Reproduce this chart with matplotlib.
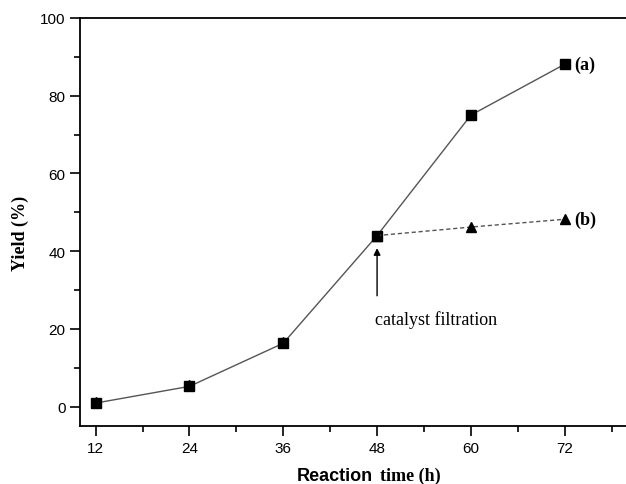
import numpy as np
import matplotlib.pyplot as plt
from matplotlib.ticker import MultipleLocator

# data
time_h = [12, 24, 36, 48, 60, 72]
yield_a = [0.9, 5.2, 16.3, 44.0, 75.0, 88.1]
time_b = [48, 60, 72]
yield_b = [44.0, 46.2, 48.2]
yield_b_early = [1.2, 5.5, 16.6]

serif = 'Liberation Serif'
sans = 'Liberation Sans'

fig = plt.figure(figsize=(6.26, 4.85), dpi=100)
ax = fig.add_axes([80 / 626, 1 - 427 / 485, 1 - 80 / 626 + 0.002, (427 - 19) / 485])

# curve (a): full run, solid line
ax.plot(time_h, yield_a, color='#555555', lw=1.0, marker='s', ms=6.5,
        mfc='black', mec='black', zorder=3)
# curve (b): after catalyst filtration, dashed
ax.plot(time_h[:3], yield_b_early, ls='none', marker='^', ms=7.5,
        mfc='black', mec='black', zorder=4)
ax.plot(time_b, yield_b, color='#555555', lw=1.0, ls=(0, (3, 2)), marker='^', ms=7.5,
        mfc='black', mec='black', zorder=4)

ax.text(73.2, yield_a[-1], '(a)', fontsize=13, fontweight='bold', family=serif, va='center')
ax.text(73.2, yield_b[-1], '(b)', fontsize=13, fontweight='bold', family=serif, va='center')

ax.annotate('', xy=(48, 41.5), xytext=(48, 27.8),
            arrowprops=dict(arrowstyle='-|>', color='black', lw=1.0, mutation_scale=10))
ax.text(47.7, 22.6, 'catalyst filtration', fontsize=13, family=serif, va='center', ha='left')

ax.set_xlim(10, 80)
ax.set_ylim(-5, 100)
ax.set_xticks(time_h)
ax.xaxis.set_minor_locator(MultipleLocator(6))
ax.set_yticks([0, 20, 40, 60, 80, 100])
ax.yaxis.set_minor_locator(MultipleLocator(10))
ax.tick_params(which='major', direction='out', length=7, width=1.2, labelsize=11)
ax.tick_params(which='minor', direction='out', length=4, width=1.2)
ax.tick_params(top=False, right=False, which='both')
for lab in ax.get_xticklabels() + ax.get_yticklabels():
    lab.set_family(sans)
for s in ax.spines.values():
    s.set_linewidth(1.3)
ax.spines['right'].set_color('#cccccc')

fig.text(20 / 626, 1 - 233 / 485, 'Yield (%)', fontsize=13, fontweight='bold',
         family=serif, rotation=90, ha='center', va='center')

# x label: "Reaction" in sans, "time (h)" in serif, as in the original
fig.text(297 / 626, 1 - 481 / 485, 'Reaction', fontsize=13, fontweight='bold',
         family=sans, ha='left', va='baseline')
fig.text(380 / 626, 1 - 481 / 485, 'time (h)', fontsize=13, fontweight='bold',
         family=serif, ha='left', va='baseline')

fig.savefig('out.png', dpi=100)
